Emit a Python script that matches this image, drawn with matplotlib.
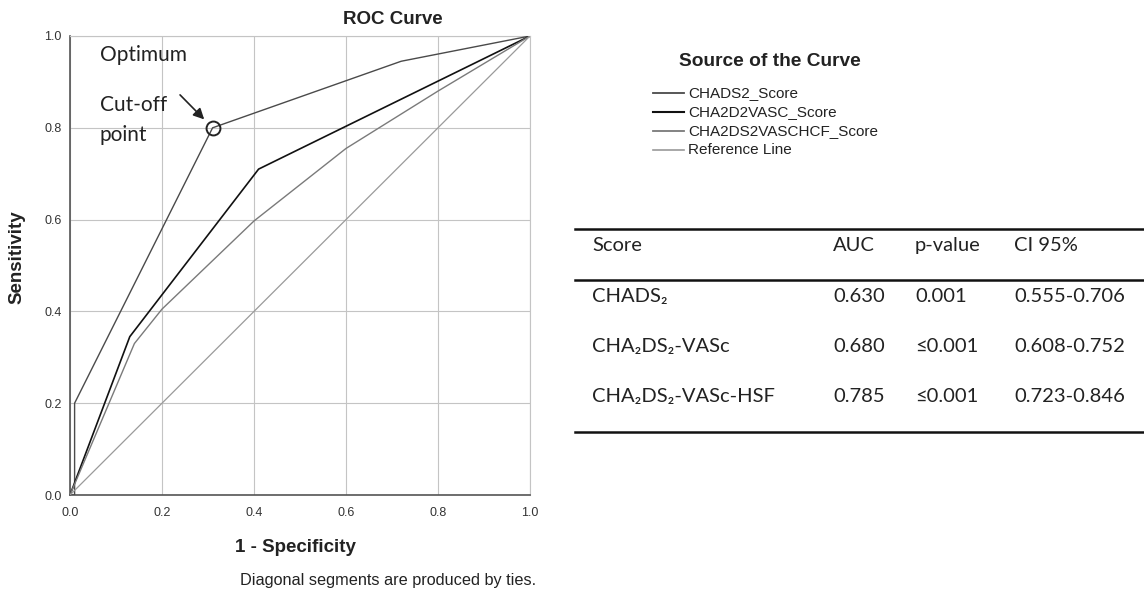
import matplotlib
matplotlib.use("Agg")
import matplotlib.pyplot as plt
from matplotlib.lines import Line2D
import numpy as np

# ROC curves (1 - specificity, sensitivity)
chads2_fpr = [0.0, 0.01, 0.01, 0.31, 0.72, 1.0]
chads2_tpr = [0.0, 0.0, 0.20, 0.80, 0.945, 1.0]
vasc_fpr = [0.0, 0.13, 0.41, 1.0]
vasc_tpr = [0.0, 0.345, 0.71, 1.0]
hcf_fpr = [0.0, 0.14, 0.20, 0.40, 0.60, 0.80, 1.0]
hcf_tpr = [0.0, 0.33, 0.405, 0.597, 0.755, 0.88, 1.0]
ref_fpr = [0.0, 1.0]
ref_tpr = [0.0, 1.0]

series_labels = ["CHADS2_Score", "CHA2D2VASC_Score", "CHA2DS2VASCHCF_Score", "Reference Line"]
series_colors = ["#4a4a4a", "#111111", "#7a7a7a", "#9a9a9a"]
series_widths = [1.0, 1.2, 1.0, 0.9]

optimum_fpr = 0.31
optimum_tpr = 0.80

ticks = [0.0, 0.2, 0.4, 0.6, 0.8, 1.0]

# summary table
table_header = ["Score", "AUC", "p-value", "CI 95%"]
score_names = ["CHADS\u2082", "CHA\u2082DS\u2082-VASc", "CHA\u2082DS\u2082-VASc-HSF"]
auc_values = ["0.630", "0.680", "0.785"]
p_values = ["0.001", "\u22640.001", "\u22640.001"]
ci_values = ["0.555-0.706", "0.608-0.752", "0.723-0.846"]

W, H = 1144, 598
SPSS = ["Liberation Sans", "DejaVu Sans"]
DOC = ["Lato", "DejaVu Sans"]


def fx(px):
    return px / W


def fy(py):
    return 1 - py / H


fig = plt.figure(figsize=(W / 100, H / 100), dpi=100)
ax = fig.add_axes([fx(70), fy(495), 460 / W, 459 / H])

curves = [(chads2_fpr, chads2_tpr), (vasc_fpr, vasc_tpr), (hcf_fpr, hcf_tpr), (ref_fpr, ref_tpr)]
for (xs, ys), c, lw in zip(curves, series_colors, series_widths):
    ax.plot(xs, ys, color=c, lw=lw, zorder=3)

ax.plot([optimum_fpr], [optimum_tpr], marker="o", ms=10, mfc="none", mec="#222222", mew=1.4, zorder=4)
ax.annotate("", xy=(optimum_fpr - 0.014, optimum_tpr + 0.014), xytext=(0.235, 0.876),
            arrowprops=dict(arrowstyle="-|>", color="#222222", lw=1.2, mutation_scale=16))

ax.text(0.065, 0.958, "Optimum", fontsize=15, family=DOC, va="center", color="#222222")
ax.text(0.065, 0.85, "Cut-off", fontsize=15, family=DOC, va="center", color="#222222")
ax.text(0.065, 0.784, "point", fontsize=15, family=DOC, va="center", color="#222222")

ax.set_xlim(0, 1)
ax.set_ylim(0, 1)
ax.set_xticks(ticks)
ax.set_yticks(ticks)
ax.set_xticklabels(["%.1f" % t for t in ticks], family=SPSS, fontsize=9, color="#333333")
ax.set_yticklabels(["%.1f" % t for t in ticks], family=SPSS, fontsize=9, color="#333333")
ax.tick_params(axis="x", length=0, pad=9)
ax.tick_params(axis="y", length=0, pad=6)
ax.grid(True, color="#c4c4c4", lw=0.8, zorder=0)
for side in ["top", "right"]:
    ax.spines[side].set_color("#c4c4c4")
    ax.spines[side].set_linewidth(0.8)
for side in ["left", "bottom"]:
    ax.spines[side].set_color("#555555")
    ax.spines[side].set_linewidth(1.2)

fig.text(fx(393), fy(20), "ROC Curve", ha="center", va="center", fontsize=13.5,
         fontweight="bold", family=SPSS, color="#222222")
fig.text(fx(17), fy(257), "Sensitivity", ha="center", va="center", rotation=90, fontsize=13.5,
         fontweight="bold", family=SPSS, color="#222222")
fig.text(fx(295), fy(547), "1 - Specificity", ha="center", va="center", fontsize=13.5,
         fontweight="bold", family=SPSS, color="#222222")
fig.text(fx(240), fy(581), "Diagonal segments are produced by ties.", ha="left", va="center",
         fontsize=11.7, family=SPSS, color="#222222")

# legend
fig.text(fx(679), fy(62), "Source of the Curve", ha="left", va="center", fontsize=13.8,
         fontweight="bold", family=SPSS, color="#222222")
for i, (lab, c, lw) in enumerate(zip(series_labels, series_colors, series_widths)):
    yy = 93 + i * 19
    fig.add_artist(Line2D([fx(653), fx(684)], [fy(yy), fy(yy)], color=c, lw=lw + 0.3,
                          transform=fig.transFigure))
    fig.text(fx(688), fy(yy), lab, ha="left", va="center", fontsize=11, family=SPSS,
             color="#222222")

# table
col_x = [592, 833, 915, 1014]
for x, h in zip(col_x, table_header):
    fig.text(fx(x), fy(245), h, ha="left", va="center", fontsize=14.5, family=DOC, color="#222222")
for r, cells in enumerate(zip(score_names, auc_values, p_values, ci_values)):
    yy = 297 + r * 49.5
    for x, val in zip(col_x, cells):
        fig.text(fx(x), fy(yy), val, ha="left", va="center", fontsize=14.5, family=DOC,
                 color="#222222")
for yy in [229, 280, 432]:
    fig.add_artist(Line2D([fx(575), 1.0], [fy(yy), fy(yy)], color="#111111", lw=1.8,
                          transform=fig.transFigure))

fig.savefig("out.png", dpi=100, facecolor="white")
